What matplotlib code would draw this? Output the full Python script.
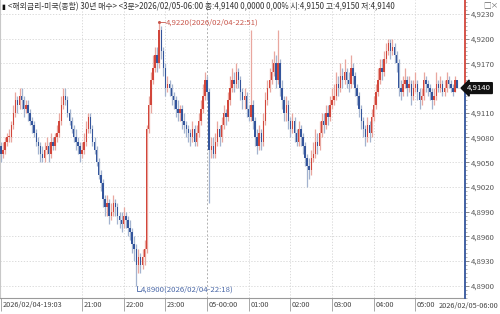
import matplotlib
matplotlib.use("Agg")
import matplotlib.pyplot as plt
import matplotlib.transforms as mtransforms
import numpy as np

plt.rcParams['font.family'] = ['Noto Sans CJK KR', 'DejaVu Sans']

# 3분봉 데이터 (2026/02/04-19:03 ~ 2026/02/05-06:00)
first_open = 4.9070
closes = [
    4.9060, 4.9065, 4.9075, 4.9080, 4.9080, 4.9095, 4.9110, 4.9125, 4.9120, 4.9130,
    4.9125, 4.9115, 4.9120, 4.9110, 4.9100, 4.9095, 4.9085, 4.9075, 4.9070, 4.9060,
    4.9055, 4.9065, 4.9070, 4.9060, 4.9075, 4.9070, 4.9080, 4.9085, 4.9100, 4.9120,
    4.9130, 4.9125, 4.9110, 4.9100, 4.9090, 4.9080, 4.9075, 4.9070, 4.9060, 4.9065,
    4.9075, 4.9090, 4.9105, 4.9090, 4.9075, 4.9065, 4.9050, 4.9035, 4.9025, 4.9005,
    4.8995, 4.9000, 4.8985, 4.8990, 4.9000, 4.8995, 4.8985, 4.8980, 4.8975, 4.8985,
    4.8980, 4.8970, 4.8965, 4.8950, 4.8945, 4.8925, 4.8935, 4.8925, 4.8935, 4.8945,
    4.9090, 4.9120, 4.9150, 4.9165, 4.9180, 4.9170, 4.9210, 4.9185, 4.9165, 4.9140,
    4.9145, 4.9140, 4.9130, 4.9125, 4.9115, 4.9110, 4.9115, 4.9100, 4.9095, 4.9090,
    4.9085, 4.9080, 4.9090, 4.9075, 4.9085, 4.9100, 4.9115, 4.9130, 4.9150, 4.9135,
    4.9065, 4.9070, 4.9060, 4.9075, 4.9090, 4.9080, 4.9095, 4.9110, 4.9105, 4.9125,
    4.9140, 4.9150, 4.9145, 4.9160, 4.9150, 4.9135, 4.9125, 4.9130, 4.9115, 4.9105,
    4.9120, 4.9100, 4.9080, 4.9070, 4.9085, 4.9075, 4.9100, 4.9125, 4.9140, 4.9150,
    4.9160, 4.9170, 4.9150, 4.9170, 4.9140, 4.9125, 4.9110, 4.9120, 4.9100, 4.9090,
    4.9100, 4.9085, 4.9075, 4.9090, 4.9080, 4.9070, 4.9055, 4.9045, 4.9040, 4.9055,
    4.9060, 4.9075, 4.9070, 4.9085, 4.9100, 4.9095, 4.9110, 4.9105, 4.9120, 4.9125,
    4.9130, 4.9145, 4.9140, 4.9155, 4.9150, 4.9160, 4.9150, 4.9145, 4.9165, 4.9155,
    4.9140, 4.9130, 4.9115, 4.9100, 4.9090, 4.9080, 4.9095, 4.9085, 4.9105, 4.9120,
    4.9135, 4.9150, 4.9165, 4.9160, 4.9175, 4.9185, 4.9195, 4.9185, 4.9190, 4.9180,
    4.9170, 4.9140, 4.9135, 4.9145, 4.9150, 4.9140, 4.9145, 4.9130, 4.9140, 4.9145,
    4.9135, 4.9125, 4.9130, 4.9150, 4.9145, 4.9140, 4.9135, 4.9125, 4.9130, 4.9145,
    4.9140, 4.9145, 4.9135, 4.9140, 4.9150, 4.9145, 4.9140, 4.9135, 4.9150, 4.9140,
]
highs = [
    4.9075, 4.9075, 4.9080, 4.9085, 4.9090, 4.9100, 4.9120, 4.9135, 4.9130, 4.9140,
    4.9140, 4.9130, 4.9125, 4.9125, 4.9115, 4.9105, 4.9100, 4.9090, 4.9080, 4.9075,
    4.9070, 4.9075, 4.9080, 4.9075, 4.9085, 4.9080, 4.9085, 4.9095, 4.9110, 4.9130,
    4.9140, 4.9140, 4.9130, 4.9115, 4.9105, 4.9095, 4.9090, 4.9080, 4.9075, 4.9075,
    4.9085, 4.9100, 4.9110, 4.9110, 4.9095, 4.9080, 4.9070, 4.9055, 4.9040, 4.9030,
    4.9010, 4.9010, 4.9005, 4.9000, 4.9010, 4.9005, 4.9000, 4.8990, 4.8990, 4.8995,
    4.8990, 4.8985, 4.8980, 4.8970, 4.8960, 4.8950, 4.8945, 4.8940, 4.8945, 4.8955,
    4.9095, 4.9130, 4.9160, 4.9180, 4.9190, 4.9190, 4.9220, 4.9215, 4.9190, 4.9170,
    4.9155, 4.9150, 4.9145, 4.9135, 4.9130, 4.9125, 4.9120, 4.9120, 4.9110, 4.9100,
    4.9095, 4.9090, 4.9100, 4.9095, 4.9095, 4.9110, 4.9125, 4.9145, 4.9160, 4.9155,
    4.9140, 4.9080, 4.9080, 4.9085, 4.9100, 4.9095, 4.9105, 4.9120, 4.9115, 4.9135,
    4.9155, 4.9165, 4.9160, 4.9170, 4.9165, 4.9155, 4.9140, 4.9140, 4.9135, 4.9120,
    4.9210, 4.9125, 4.9105, 4.9090, 4.9095, 4.9090, 4.9110, 4.9135, 4.9150, 4.9165,
    4.9175, 4.9185, 4.9180, 4.9210, 4.9175, 4.9150, 4.9130, 4.9130, 4.9125, 4.9105,
    4.9110, 4.9105, 4.9090, 4.9100, 4.9095, 4.9085, 4.9075, 4.9060, 4.9055, 4.9065,
    4.9075, 4.9090, 4.9085, 4.9100, 4.9110, 4.9110, 4.9120, 4.9120, 4.9130, 4.9140,
    4.9145, 4.9160, 4.9155, 4.9170, 4.9165, 4.9175, 4.9165, 4.9160, 4.9180, 4.9170,
    4.9160, 4.9145, 4.9135, 4.9120, 4.9105, 4.9095, 4.9105, 4.9100, 4.9115, 4.9130,
    4.9145, 4.9165, 4.9175, 4.9175, 4.9185, 4.9195, 4.9200, 4.9200, 4.9200, 4.9195,
    4.9185, 4.9175, 4.9150, 4.9155, 4.9165, 4.9155, 4.9155, 4.9150, 4.9150, 4.9160,
    4.9150, 4.9140, 4.9140, 4.9160, 4.9155, 4.9150, 4.9145, 4.9140, 4.9140, 4.9160,
    4.9150, 4.9155, 4.9150, 4.9150, 4.9160, 4.9155, 4.9150, 4.9145, 4.9155, 4.9150,
]
lows = [
    4.9050, 4.9055, 4.9060, 4.9070, 4.9075, 4.9075, 4.9090, 4.9105, 4.9110, 4.9115,
    4.9115, 4.9105, 4.9110, 4.9100, 4.9095, 4.9085, 4.9080, 4.9070, 4.9060, 4.9050,
    4.9050, 4.9050, 4.9060, 4.9050, 4.9055, 4.9065, 4.9065, 4.9075, 4.9080, 4.9095,
    4.9115, 4.9120, 4.9105, 4.9095, 4.9085, 4.9075, 4.9065, 4.9060, 4.9050, 4.9055,
    4.9060, 4.9070, 4.9085, 4.9085, 4.9070, 4.9060, 4.9045, 4.9030, 4.9015, 4.8995,
    4.8985, 4.8985, 4.8975, 4.8980, 4.8985, 4.8985, 4.8975, 4.8970, 4.8965, 4.8970,
    4.8970, 4.8960, 4.8955, 4.8940, 4.8930, 4.8900, 4.8915, 4.8915, 4.8920, 4.8925,
    4.8940, 4.9085, 4.9110, 4.9145, 4.9160, 4.9160, 4.9165, 4.9175, 4.9155, 4.9130,
    4.9135, 4.9130, 4.9120, 4.9115, 4.9105, 4.9100, 4.9100, 4.9090, 4.9085, 4.9080,
    4.9075, 4.9070, 4.9075, 4.9070, 4.9070, 4.9080, 4.9095, 4.9110, 4.9125, 4.9125,
    4.9000, 4.9055, 4.9055, 4.9055, 4.9070, 4.9070, 4.9075, 4.9090, 4.9095, 4.9100,
    4.9120, 4.9135, 4.9135, 4.9140, 4.9140, 4.9125, 4.9115, 4.9115, 4.9105, 4.9100,
    4.9100, 4.9090, 4.9070, 4.9060, 4.9065, 4.9065, 4.9070, 4.9095, 4.9120, 4.9135,
    4.9145, 4.9155, 4.9140, 4.9145, 4.9130, 4.9115, 4.9100, 4.9100, 4.9090, 4.9080,
    4.9085, 4.9075, 4.9070, 4.9070, 4.9070, 4.9060, 4.9045, 4.9020, 4.9030, 4.9035,
    4.9050, 4.9055, 4.9060, 4.9065, 4.9080, 4.9085, 4.9090, 4.9095, 4.9100, 4.9115,
    4.9120, 4.9125, 4.9130, 4.9135, 4.9140, 4.9145, 4.9140, 4.9135, 4.9140, 4.9145,
    4.9130, 4.9120, 4.9105, 4.9090, 4.9080, 4.9070, 4.9075, 4.9075, 4.9080, 4.9100,
    4.9115, 4.9130, 4.9145, 4.9150, 4.9155, 4.9170, 4.9180, 4.9175, 4.9180, 4.9170,
    4.9160, 4.9130, 4.9125, 4.9130, 4.9140, 4.9130, 4.9135, 4.9120, 4.9125, 4.9135,
    4.9125, 4.9115, 4.9120, 4.9125, 4.9135, 4.9130, 4.9125, 4.9115, 4.9120, 4.9125,
    4.9135, 4.9135, 4.9130, 4.9130, 4.9135, 4.9140, 4.9135, 4.9130, 4.9135, 4.9140,
]

hour_pos = [39, 59, 79, 99, 119, 139, 159, 179, 199]
hour_labels = ['21:00', '22:00', '23:00', '05-00:00', '01:00', '02:00', '03:00', '04:00', '05:00']
start_label = '2026/02/04-19:03'
end_label = '2026/02/05-06:00'
last_price = 4.9140
high_idx, high_val, high_text = 76, 4.9220, '4,9220(2026/02/04-22:51)'
low_idx, low_val, low_text = 65, 4.8900, '4,8900(2026/02/04-22:18)'
header = '<해외금리-미국(종합) 30년 매수> <3분>2026/02/05-06:00 종:4,9140 0,0000 0,00% 시:4,9150 고:4,9150 저:4,9140'
ytick_vals = [4.8900, 4.8930, 4.8960, 4.8990, 4.9020, 4.9050, 4.9080, 4.9110, 4.9140, 4.9170, 4.9200, 4.9230]

RED = '#d2463b'
BLUE = '#34559c'
RED_L = '#e9a79f'
BLUE_L = '#a3b3cf'
GRID = '#d4d4d4'

opens = [first_open] + closes[:-1]
x = np.arange(len(closes))
up = np.array(closes) >= np.array(opens)
body_col = [RED if u else BLUE for u in up]
wick_col = [RED_L if u else BLUE_L for u in up]
bottoms = np.minimum(opens, closes)
heights = np.maximum(np.abs(np.array(closes) - np.array(opens)), 0.00012)

fig = plt.figure(figsize=(5, 3.14), dpi=100)
ax = fig.add_axes([0, 16 / 314, 465 / 500, 298 / 314])

ymin, ymax = 4.88854, 4.9247
ax.set_xlim(-0.4, 222.8)
ax.set_ylim(ymin, ymax)

# grid
for v in ytick_vals:
    ax.axhline(v, color=GRID, lw=0.6, ls=(0, (1.5, 2)), zorder=0)
for p in hour_pos:
    if p == 99:
        ax.axvline(p, color='#b0b0b0', lw=0.7, ls=(0, (2, 2)), zorder=0)
    else:
        ax.axvline(p, color=GRID, lw=0.6, ls=(0, (1.5, 2)), zorder=0)

ax.vlines(x, lows, highs, colors=wick_col, lw=0.9, zorder=2)
ax.bar(x, heights, bottom=bottoms, width=0.7, color=body_col, lw=0, zorder=3)

# high / low marks
ax.plot([high_idx, high_idx + 2.8], [high_val, high_val], color='#c9574c', lw=0.6, zorder=4)
ax.plot([high_idx], [high_val], marker='o', ms=1.2, color='#c9574c', zorder=4)
ax.text(high_idx + 3.0, high_val, high_text, color='#c9574c', fontsize=5.6,
        va='center', ha='left', zorder=5)
low_y = low_val - 0.0006
ax.plot([low_idx + 0.6, low_idx + 0.6, low_idx + 2.2], [low_val, low_y, low_y],
        color='#4a68a8', lw=0.6, zorder=4, clip_on=False)
ax.text(low_idx + 2.4, low_y + 0.0001, low_text, color='#4a68a8', fontsize=5.6,
        va='center', ha='left', zorder=5)

# spines
for s in ['top', 'right']:
    ax.spines[s].set_visible(False)
ax.spines['left'].set_color('#c8c8c8')
ax.spines['left'].set_linewidth(0.8)
ax.spines['bottom'].set_color('#9a9a9a')
ax.spines['bottom'].set_linewidth(0.8)

xr = ax.get_xlim()[1]
ax.plot([xr, xr], [ymin, last_price], color=BLUE, lw=1.3, clip_on=False, zorder=6)
ax.plot([xr, xr], [last_price, ymax], color=RED, lw=1.3, clip_on=False, zorder=6)

# right price axis (the current price box takes the place of its own tick label)
ax.yaxis.tick_right()
ax.set_yticks(ytick_vals)
ax.set_yticks(np.arange(4.8885, 4.9246, 0.0005), minor=True)
ax.set_yticklabels(['' if abs(v - last_price) < 1e-6 else ('%.4f' % v).replace('.', ',')
                    for v in ytick_vals])
ax.tick_params(axis='y', which='major', length=3, width=0.6, color='#777777',
               labelsize=5.6, labelcolor='#555555', pad=1)
ax.tick_params(axis='y', which='minor', length=1.5, width=0.5, color='#999999')
ax.text(1.004, last_price, ('%.4f' % last_price).replace('.', ','), color='white',
        fontsize=5.6, va='center', ha='left', transform=ax.get_yaxis_transform(),
        bbox=dict(boxstyle='larrow,pad=0.18', fc='#111111', ec='#111111'), zorder=10)

# bottom time axis
ax.set_xticks([0] + hour_pos)
ax.set_xticklabels([])
ax.tick_params(axis='x', length=9, width=0.6, color='#9a9a9a', direction='out')
off = mtransforms.offset_copy(ax.get_xaxis_transform(), fig=fig, x=1.2, y=-2, units='points')
ax.text(0, 0, start_label, transform=off, fontsize=5.3, color='#444444', ha='left', va='top')
for p, lab in zip(hour_pos, hour_labels):
    ax.text(p, 0, lab, transform=off, fontsize=5.3, color='#444444', ha='left', va='top')
fig.text(0.997, 16 / 314 - 0.012, end_label, fontsize=5.3, color='#444444', ha='right', va='top')

# header
fig.text(0.003, 0.992, '▮', fontsize=5, color='#111111', ha='left', va='top')
fig.text(0.016, 0.992, header, fontsize=5.7, color='#333333', ha='left', va='top')
fig.text(0.997, 0.995, '□×', fontsize=5.5, color='#666666', ha='right', va='top')

fig.savefig('out.png', dpi=100)
